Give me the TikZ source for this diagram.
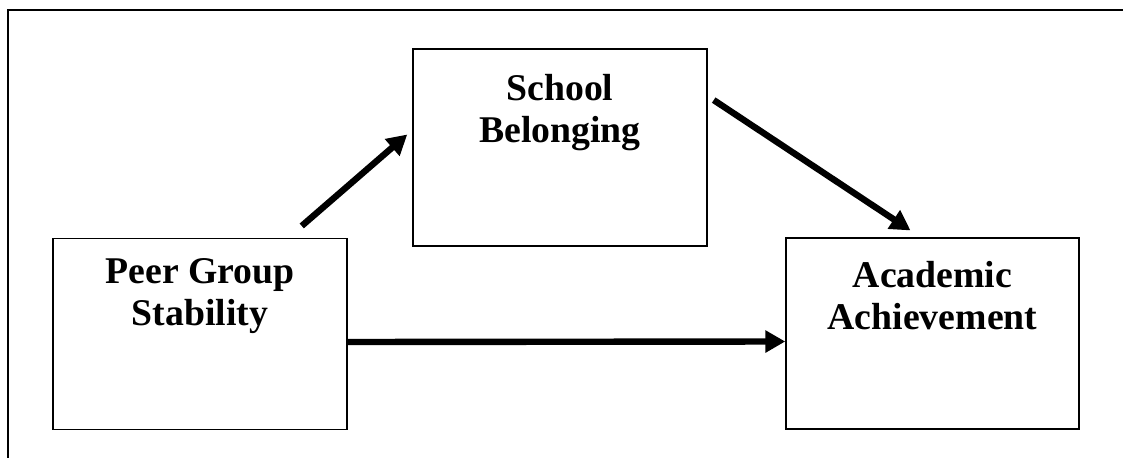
\documentclass[tikz,border=0pt]{standalone}
\usepackage{fontspec}
\setmainfont{Liberation Serif}
\usepackage{tikz}
\usetikzlibrary{arrows.meta, positioning}

\tikzset{
  box/.style={draw, line width=1.1pt, minimum width=220.5pt, minimum height=143pt, inner sep=0pt},
  lbl/.style={anchor=north, align=center, inner sep=0pt,
    font=\bfseries\fontsize{28.3}{31.5}\selectfont},
  link/.style={line width=4.8pt, -{Triangle[length=15pt, width=16pt]}}
}

\begin{document}
\begin{tikzpicture}[x=0.75pt, y=0.75pt]
        \useasboundingbox (0,0) rectangle (1123,458);
        % Frame (top and left only)
        \draw[line width=1.5pt] (1123,448) -- (8,448) -- (8,0);
        % Boxes
        \node[box] (peer) at (200,124) {};
        \node[box, minimum height=148pt] (school) at (560,310.5) {};
        \node[box, minimum width=219.75pt] (academic) at (932.5,124.5) {};
        % Labels
        \node[lbl, below=20 of peer.north] (peertxt) {Peer Group\\Stability};
        \node[lbl, below=26 of school.north] (schooltxt) {School\\Belonging};
        \node[lbl, below=24 of academic.north] (academictxt) {Academic\\Achievement};
        % Paths
        \coordinate (a1) at ([shift={(-46,12)}]peer.north east);
        \coordinate (b1) at ([shift={(-5,13)}]school.west);
        \coordinate (a2) at ([shift={(6,-52)}]school.north east);
        \coordinate (b2) at ([shift={(-22,7)}]academic.north);
        \draw[link] (a1) -- (b1);
        \draw[link] (a2) -- (b2);
        \draw[link] ([yshift=-6pt]peer.east) -- ([yshift=-6pt]academic.west);
      \end{tikzpicture}
\end{document}
